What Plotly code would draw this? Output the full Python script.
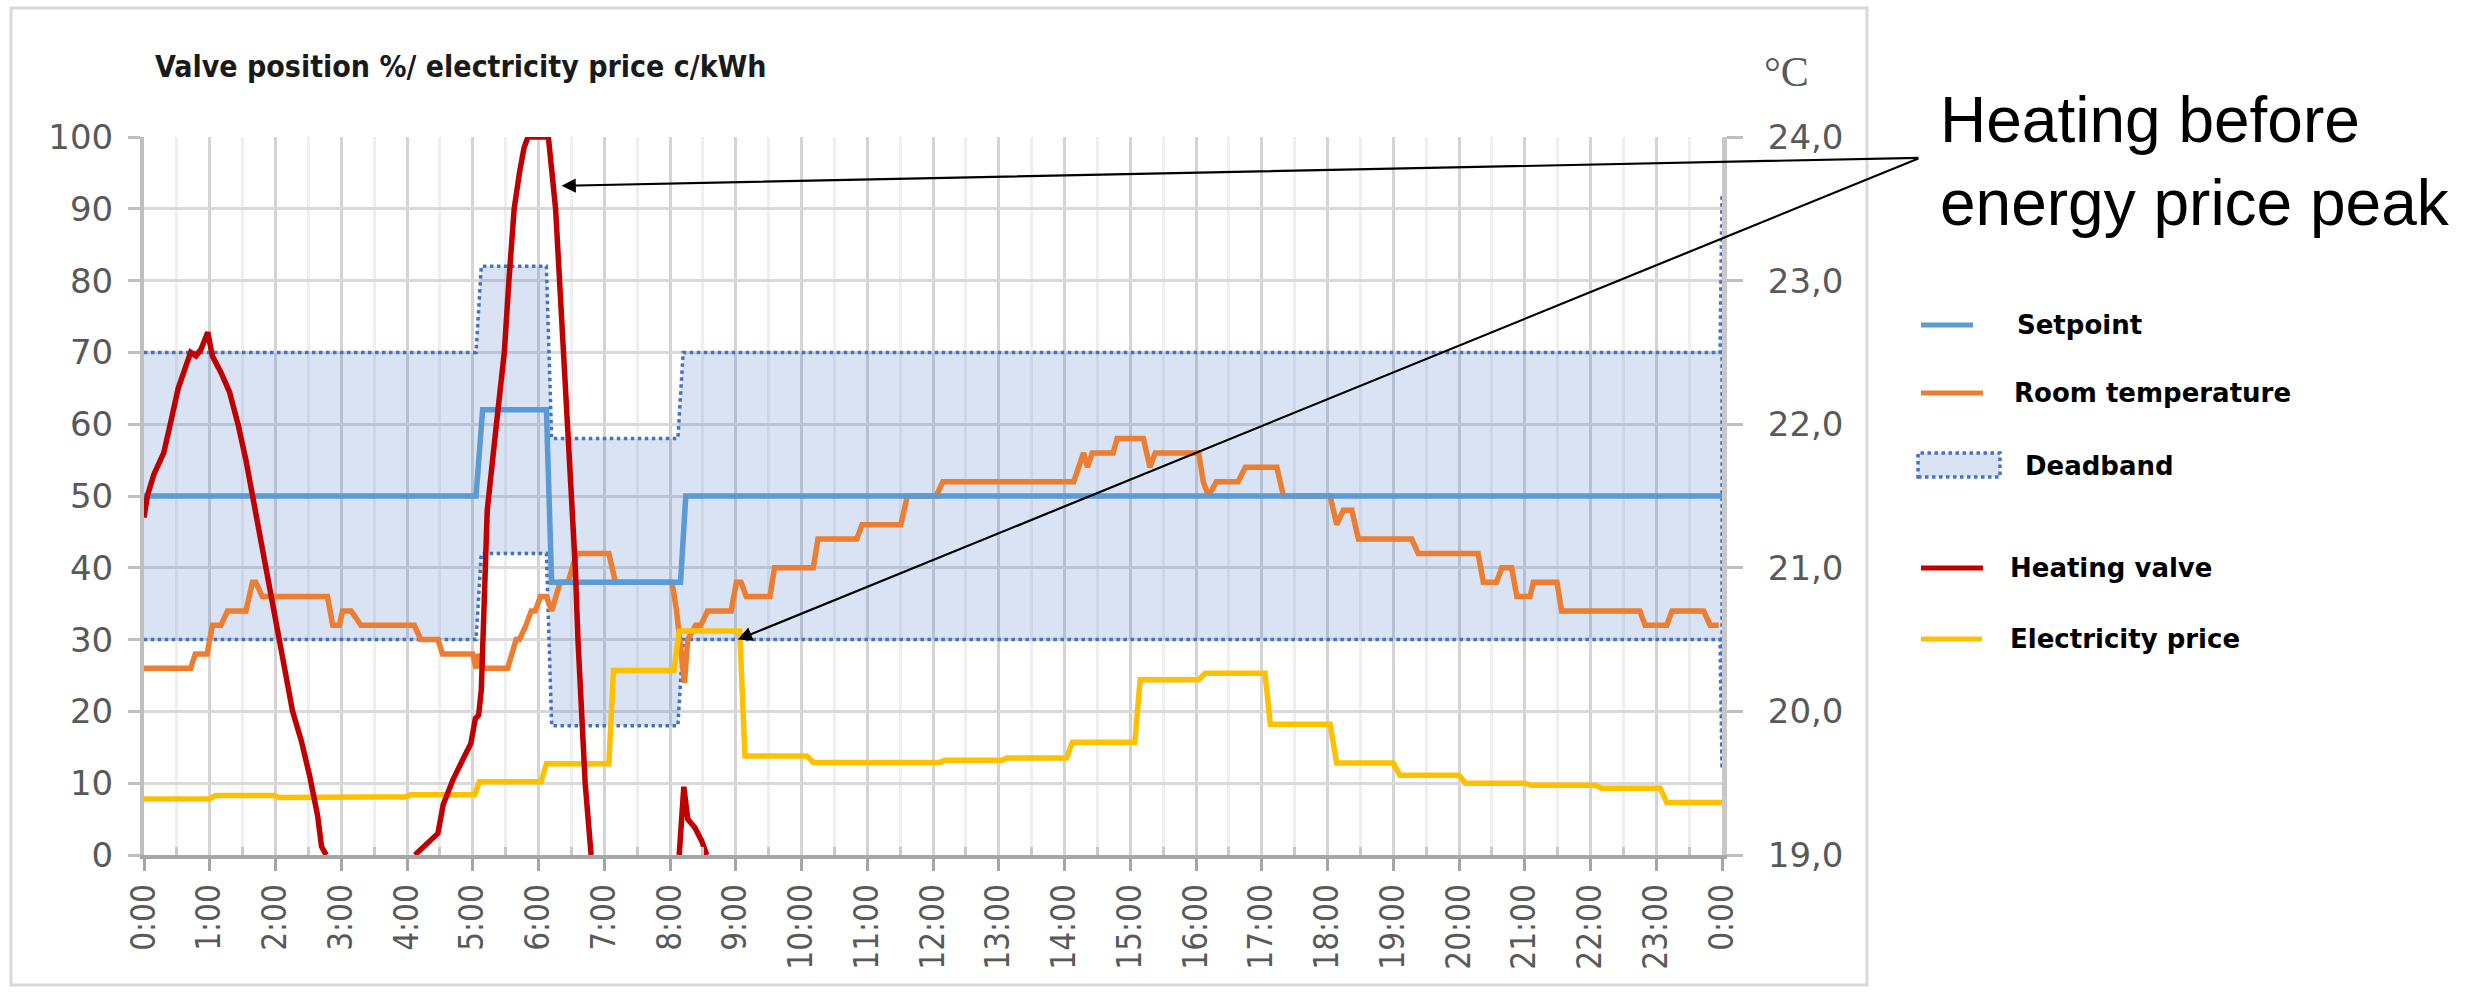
import plotly.graph_objects as go

# ---------------- data ----------------
hours = list(range(25))
hour_labels = [f"{h % 24}:00" for h in hours]
half_hours = [h + 0.5 for h in range(24)]
pct_ticks = list(range(0, 101, 10))
temp_ticks = [19, 20, 21, 22, 23, 24]
temp_labels = ["19,0", "20,0", "21,0", "22,0", "23,0", "24,0"]

# Heating valve position, % (None = valve closed, no line)
valve_t = [0.00, 0.05, 0.15, 0.30, 0.40, 0.52, 0.71, 0.79, 0.87, 0.97, 1.04, 1.10,
           1.17, 1.30, 1.43, 1.55, 1.65, 1.72, 1.82, 1.99, 2.12, 2.26, 2.39, 2.52,
           2.64, 2.70, 2.77, 3.40,
           4.12, 4.30, 4.47, 4.55, 4.70, 4.86, 4.97, 5.04, 5.09, 5.13, 5.18, 5.22,
           5.36, 5.48, 5.55, 5.63, 5.71, 5.78, 5.84, 6.15, 6.26, 6.32, 6.38, 6.45,
           6.52, 6.56, 6.60, 6.65, 6.71, 6.80, 7.50,
           8.14, 8.21, 8.27, 8.38, 8.48, 8.56]
valve_pct = [47, 50, 53, 56, 60, 65, 70, 69.5, 70.5, 72.8, 69.5, 68.5,
             67.2, 64.5, 60, 55, 50, 46, 41, 33, 26, 20, 16, 11,
             5.5, 1.2, 0, None,
             0, 1.5, 3, 7, 10.5, 13.5, 15.5, 19, 19.5, 23, 35, 48,
             60, 70, 80, 90, 95, 98.5, 100, 100, 90, 80, 70, 60,
             50, 40, 30, 20, 10, 0, None,
             0, 9.5, 5, 3.8, 2, 0]

# Electricity price, c/kWh
price_t = [0.00, 0.99, 1.09, 1.98, 2.06, 3.00, 3.08, 3.98, 4.06, 5.03, 5.10, 6.04,
           6.12, 7.07, 7.14, 8.06, 8.14, 9.06, 9.14, 10.08, 10.18, 12.10, 12.18,
           13.05, 13.12, 14.03, 14.12, 15.07, 15.15, 16.04, 16.14, 17.05, 17.13,
           18.04, 18.14, 19.00, 19.10, 20.00, 20.10, 21.00, 21.10, 22.07, 22.17,
           23.06, 23.16, 24.00]
price_c = [7.8, 7.8, 8.3, 8.3, 8.0, 8.0, 8.1, 8.1, 8.4, 8.4, 10.2, 10.2,
           12.7, 12.7, 25.7, 25.7, 31.2, 31.2, 13.8, 13.8, 12.9, 12.9, 13.2,
           13.2, 13.5, 13.5, 15.7, 15.7, 24.4, 24.4, 25.3, 25.3, 18.2,
           18.2, 12.8, 12.8, 11.1, 11.1, 10.0, 10.0, 9.7, 9.7, 9.3,
           9.3, 7.3, 7.3]

# Setpoint, °C
setpoint_t = [0.00, 5.05, 5.15, 6.12, 6.20, 8.16, 8.24, 24.00]
setpoint_c = [21.5, 21.5, 22.1, 22.1, 20.9, 20.9, 21.5, 21.5]

# Deadband limits, °C
band_t = [0.00, 5.05, 5.13, 6.12, 6.20, 8.12, 8.20, 23.97, 24.00]
band_hi = [22.5, 22.5, 23.1, 23.1, 21.9, 21.9, 22.5, 22.5, 23.6]
band_lo = [20.5, 20.5, 21.1, 21.1, 19.9, 19.9, 20.5, 20.5, 19.6]

# Room temperature, °C
room_t = [0.00, 0.71, 0.78, 0.96, 1.04, 1.17, 1.27, 1.55, 1.65, 1.70, 1.80, 2.79,
          2.87, 2.97, 3.02, 3.15, 3.30, 4.11, 4.21, 4.47, 4.54, 5.00, 5.05, 5.09,
          5.15, 5.53, 5.66, 5.71, 5.81, 5.89, 5.95, 6.03, 6.12, 6.20, 6.33, 6.45,
          6.58, 7.07, 7.17, 8.03, 8.10, 8.15, 8.22, 8.27, 8.39, 8.47, 8.57, 8.93,
          9.01, 9.08, 9.16, 9.52, 9.59, 10.18, 10.25, 10.84, 10.92, 11.51, 11.61,
          12.05, 12.15, 14.14, 14.29, 14.35, 14.42, 14.74, 14.80, 15.20, 15.30,
          15.38, 16.04, 16.11, 16.19, 16.31, 16.64, 16.75, 17.23, 17.33, 18.04,
          18.14, 18.24, 18.37, 18.47, 19.28, 19.38, 20.29, 20.37, 20.57, 20.65,
          20.80, 20.88, 21.08, 21.13, 21.49, 21.56, 22.75, 22.83, 23.16, 23.24,
          23.72, 23.82, 23.95]
room_c = [20.3, 20.3, 20.4, 20.4, 20.6, 20.6, 20.7, 20.7, 20.9, 20.9, 20.8, 20.8,
          20.6, 20.6, 20.7, 20.7, 20.6, 20.6, 20.5, 20.5, 20.4, 20.4, 20.3, 20.4,
          20.3, 20.3, 20.5, 20.5, 20.6, 20.7, 20.7, 20.8, 20.8, 20.7, 20.9, 20.9,
          21.1, 21.1, 20.9, 20.9, 20.7, 20.5, 20.2, 20.5, 20.6, 20.6, 20.7, 20.7,
          20.9, 20.9, 20.8, 20.8, 21.0, 21.0, 21.2, 21.2, 21.3, 21.3, 21.5,
          21.5, 21.6, 21.6, 21.8, 21.7, 21.8, 21.8, 21.9, 21.9, 21.7,
          21.8, 21.8, 21.6, 21.5, 21.6, 21.6, 21.7, 21.7, 21.5, 21.5,
          21.3, 21.4, 21.4, 21.2, 21.2, 21.1, 21.1, 20.9, 20.9, 21.0,
          21.0, 20.8, 20.8, 20.9, 20.9, 20.7, 20.7, 20.6, 20.6, 20.7,
          20.7, 20.6, 20.6]

legend_names = ["Setpoint", "Room temperature", "Deadband", "Heating valve", "Electricity price"]
title_text = "Valve position %/ electricity price c/kWh"
note_text = "Heating before<br>energy price peak"

# ---------------- styling ----------------
W, H = 2471, 1008
L, R, T, B = 144, 1722, 137, 855          # plot area in pixels

C_SET = "#5b9bd5"
C_ROOM = "#ed7d31"
C_BAND = "#4472c4"
C_VALVE = "#c00000"
C_PRICE = "#ffc000"
C_TICK = "#595959"
LW = 5.5

def px(x):
    return (x - L) / (R - L)

def py(y):
    return (B - y) / (B - T)

fig = go.Figure()

# deadband polygon: upper limit forward, lower limit back
fig.add_trace(go.Scatter(
    x=band_t + band_t[::-1], y=band_hi + band_lo[::-1],
    yaxis="y", fill="toself", fillcolor="rgba(68,114,196,0.2)",
    line=dict(color=C_BAND, width=3.5, dash="dot"), mode="lines",
    name=legend_names[2], showlegend=False, hoverinfo="skip"))

fig.add_trace(go.Scatter(
    x=room_t, y=room_c, yaxis="y", mode="lines",
    line=dict(color=C_ROOM, width=LW), name=legend_names[1], showlegend=False))

fig.add_trace(go.Scatter(
    x=setpoint_t, y=setpoint_c, yaxis="y", mode="lines",
    line=dict(color=C_SET, width=LW), name=legend_names[0], showlegend=False))

fig.add_trace(go.Scatter(
    x=price_t, y=price_c, yaxis="y2", mode="lines",
    line=dict(color=C_PRICE, width=LW), name=legend_names[4], showlegend=False))

fig.add_trace(go.Scatter(
    x=valve_t, y=valve_pct, yaxis="y2", mode="lines", connectgaps=False,
    line=dict(color=C_VALVE, width=LW), name=legend_names[3], showlegend=False))

tick_font = dict(family="DejaVu Sans", size=34, color=C_TICK)

fig.update_layout(
    width=W, height=H, autosize=False,
    margin=dict(l=L, r=W - R, t=T, b=H - B, pad=0),
    paper_bgcolor="white", plot_bgcolor="white",
    showlegend=False,
    xaxis=dict(
        range=[0, 24], tickmode="array", tickvals=hours, ticktext=hour_labels,
        tickangle=-90, tickfont=dict(family="DejaVu Sans Condensed", size=33, color=C_TICK),
        ticks="outside", ticklen=12, tickwidth=3, tickcolor="#a6a6a6",
        showline=True, linecolor="#a6a6a6", linewidth=4,
        showgrid=True, gridcolor="#d4d4d4", gridwidth=3, zeroline=False,
        minor=dict(tickmode="array", tickvals=half_hours, ticks="inside", ticklen=8,
                   tickwidth=3, tickcolor="#c8c8c8", showgrid=True,
                   gridcolor="#efefef", gridwidth=3),
    ),
    yaxis=dict(
        side="right", range=[19, 24], tickmode="array", tickvals=temp_ticks,
        ticktext=temp_labels, tickfont=tick_font,
        ticks="outside", ticklen=16, tickwidth=3, tickcolor="#bfbfbf",
        ticklabelstandoff=18,
        showline=True, linecolor="#c8c8c8", linewidth=5,
        showgrid=False, zeroline=False,
    ),
    yaxis2=dict(
        overlaying="y", side="left", anchor="x", range=[0, 100],
        tickmode="array", tickvals=pct_ticks, tickfont=tick_font,
        ticks="outside", ticklen=12, tickwidth=3, tickcolor="#bfbfbf",
        ticklabelstandoff=8,
        showline=True, linecolor="#bfbfbf", linewidth=4,
        showgrid=True, gridcolor="#d9d9d9", gridwidth=3, zeroline=False,
    ),
)

shapes = [
    # chart frame
    dict(type="rect", xref="paper", yref="paper",
         x0=px(11), x1=px(1867), y0=py(985), y1=py(8),
         line=dict(color="#d9d9d9", width=3), layer="below"),
]

annotations = [
    dict(text=f"<b>{title_text}</b>", xref="paper", yref="paper",
         x=px(153), y=py(67), xanchor="left", yanchor="middle", showarrow=False,
         font=dict(family="DejaVu Sans Condensed", size=30, color="#1a1a1a")),
    dict(text="°C", xref="paper", yref="paper", x=px(1786), y=py(72),
         xanchor="center", yanchor="middle", showarrow=False,
         font=dict(family="Liberation Serif", size=42, color=C_TICK)),
    dict(text=note_text, xref="paper", yref="paper", x=px(1938), y=py(161),
         xanchor="left", yanchor="middle", align="left", showarrow=False,
         font=dict(family="Liberation Sans", size=64, color="black")),
    # arrows from the note to the valve peak and to the price peak
    dict(text="", x=6.35, y=93.2, xref="x", yref="y2",
         ax=27.01, ay=97.1, axref="x", ayref="y2", showarrow=True,
         arrowhead=2, arrowsize=1.3, arrowwidth=2.2, arrowcolor="black", standoff=0),
    dict(text="", x=9.03, y=30.0, xref="x", yref="y2",
         ax=27.01, ay=97.1, axref="x", ayref="y2", showarrow=True,
         arrowhead=2, arrowsize=1.3, arrowwidth=2.2, arrowcolor="black", standoff=0),
]

# legend drawn beside the plot
leg_font = dict(family="DejaVu Sans", size=26, color="black")
leg_lines = [(legend_names[0], C_SET, 325, 1973, 2015),
             (legend_names[1], C_ROOM, 393, 1983, 2012),
             (legend_names[3], C_VALVE, 568, 1983, 2008),
             (legend_names[4], C_PRICE, 639, 1982, 2008)]
for name, col, yy, xend, xtext in leg_lines:
    shapes.append(dict(type="line", xref="paper", yref="paper",
                       x0=px(1921), x1=px(xend), y0=py(yy), y1=py(yy),
                       line=dict(color=col, width=5)))
    annotations.append(dict(text=f"<b>{name}</b>", xref="paper", yref="paper",
                            x=px(xtext), y=py(yy), xanchor="left", yanchor="middle",
                            showarrow=False, font=leg_font))
shapes.append(dict(type="rect", xref="paper", yref="paper",
                   x0=px(1918), x1=px(2000), y0=py(477), y1=py(453),
                   fillcolor="rgba(68,114,196,0.2)",
                   line=dict(color=C_BAND, width=3.5, dash="dot")))
annotations.append(dict(text=f"<b>{legend_names[2]}</b>", xref="paper", yref="paper",
                        x=px(2023), y=py(466), xanchor="left", yanchor="middle",
                        showarrow=False, font=leg_font))

fig.update_layout(shapes=shapes, annotations=annotations)
fig.write_html("out.html")
